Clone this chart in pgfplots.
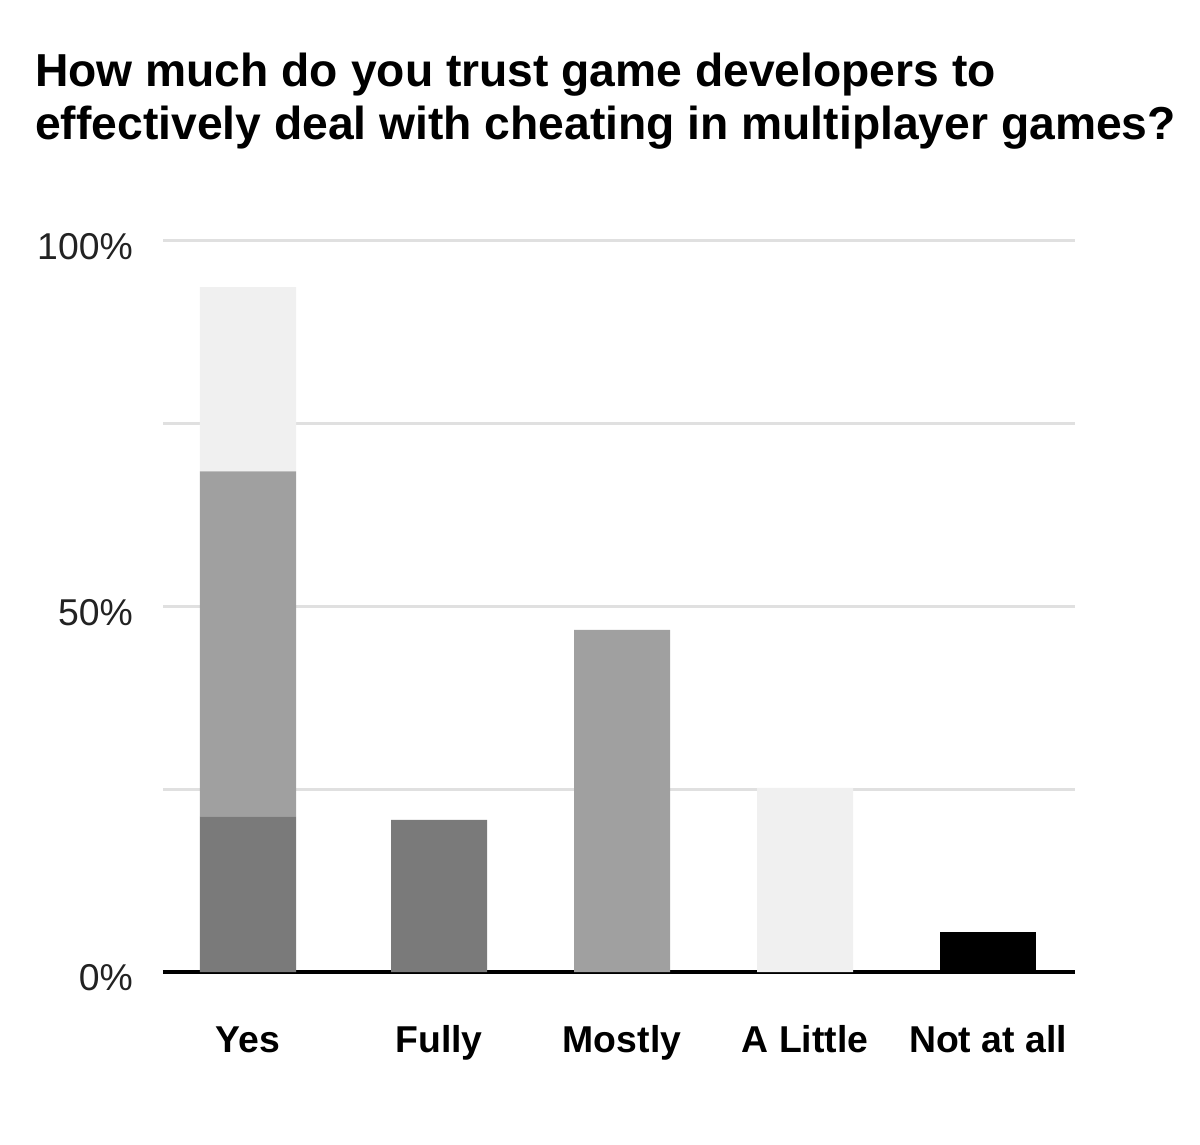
\documentclass[border=0pt]{standalone}
\usepackage{pgfplots}
\pgfplotsset{compat=1.18}
\usepackage{fontspec}
\setmainfont{Liberation Sans}

\definecolor{dark}{HTML}{7A7A7A}
\definecolor{mid}{HTML}{A0A0A0}
\definecolor{light}{HTML}{F0F0F0}
\definecolor{gridgray}{HTML}{E0E0E0}
\definecolor{labelgray}{HTML}{222222}

\begin{document}
\begin{tikzpicture}[x=1bp,y=1bp]
\useasboundingbox (-163,-173) rectangle (1037,972);
\node[anchor=base west, inner sep=0pt, font=\fontsize{46.4}{53}\selectfont\bfseries] at (-128,885) {How much do you trust game developers to};
\node[anchor=base west, inner sep=0pt, font=\fontsize{46.4}{53}\selectfont\bfseries] at (-128,832) {effectively deal with cheating in multiplayer games?};
\begin{axis}[
at={(0,0)}, anchor=south west,
scale only axis,
width=912bp, height=731bp,
xmin=163, xmax=1075,
ymin=0, ymax=100,
clip=false,
axis line style={draw=none},
major tick length=0pt,
ymajorgrids,
grid style={color=gridgray, line width=3bp},
ytick={0,25,50,75,100},
yticklabels={0\%,,50\%,,100\%},
yticklabel style={anchor=east, inner sep=0pt, xshift=-30bp, yshift=-6bp, text=labelgray, font=\fontsize{37.5}{37.5}\selectfont},
xtick={248,439,622,805,988},
xticklabels={Yes,Fully,Mostly,A Little,Not at all},
xticklabel style={anchor=base, inner sep=0pt, yshift=-80bp, font=\fontsize{37.5}{37.5}\selectfont\bfseries},
ybar stacked,
bar width=96bp,
]
\addplot[fill=dark, draw=none] coordinates {(248,21.3) (439,20.8) (622,0) (805,0) (988,0)};
\addplot[fill=mid, draw=none] coordinates {(248,47.2) (439,0) (622,46.8) (805,0) (988,0)};
\addplot[fill=light, draw=none] coordinates {(248,25.2) (439,0) (622,0) (805,25.2) (988,0)};
\addplot[fill=black, draw=none] coordinates {(248,0) (439,0) (622,0) (805,0) (988,5.5)};
\draw[black, line width=3.5bp] (rel axis cs:0,0) -- (rel axis cs:1,0);
\end{axis}
\end{tikzpicture}
\end{document}
